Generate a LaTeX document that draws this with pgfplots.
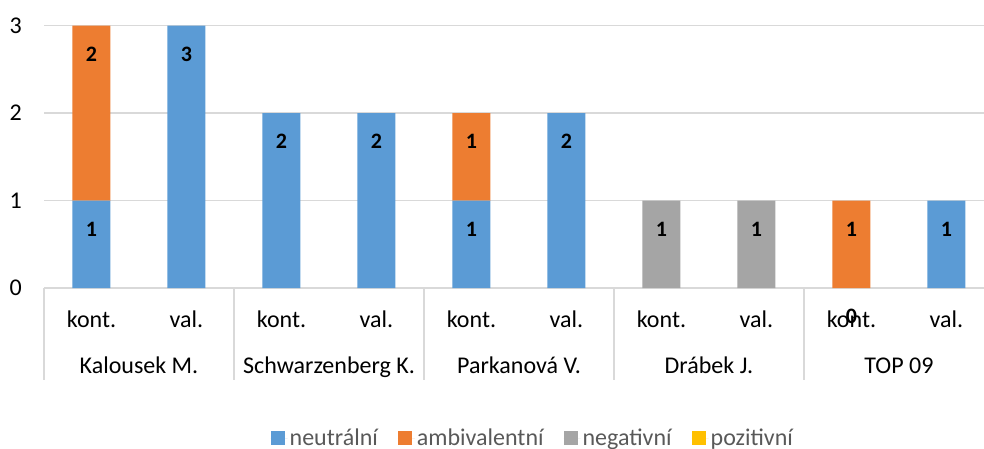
\documentclass[border=0pt]{standalone}
\usepackage{pgfplots}
\pgfplotsset{compat=1.18}
\usepackage{fontspec}
\setmainfont{Carlito}
\definecolor{neu}{HTML}{5B9BD5}
\definecolor{amb}{HTML}{ED7D31}
\definecolor{neg}{HTML}{A5A5A5}
\definecolor{poz}{HTML}{FFC000}
\definecolor{gridc}{HTML}{D9D9D9}
\definecolor{legc}{HTML}{595959}
\begin{document}
\begin{tikzpicture}
\begin{axis}[
  at={(44pt,-288pt)}, anchor=south west,
  scale only axis, width=940pt, height=262.5pt,
  ybar stacked, bar width=38pt,
  xmin=-0.5, xmax=9.395, ymin=0, ymax=3,
  clip=false,
  axis line style={draw=none},
  major tick length=0pt,
  ytick={0,1,2,3},
  ymajorgrids, major grid style={gridc, line width=1.3pt},
  /pgf/number format/assume math mode=true,
  yticklabel style={anchor=east, inner sep=0pt, xshift=-22pt, font=\fontsize{24}{28}\selectfont},
  xtick={0,1,2,3,4,5,6,7,8,9},
  xticklabels={kont.,val.,kont.,val.,kont.,val.,kont.,val.,kont.,val.},
  xticklabel style={anchor=base, inner sep=0pt, yshift=-39pt, font=\fontsize{24}{28}\selectfont},
  point meta=explicit symbolic,
  visualization depends on=rawy \as \rawy,
  nodes near coords,
  every node near coord/.append style={anchor=base, yshift={\rawy*43.75pt-35.5pt}, text=black, font=\bfseries\fontsize{22}{26}\selectfont},
  legend image code/.code={\fill[#1] (0pt,-7pt) rectangle (14pt,7pt); \path (0pt,0pt) -- (17pt,0pt);},
  legend columns=4,
  legend style={at={(0.52,-0.572)}, anchor=center, draw=none, fill=none,
    font=\fontsize{24}{28}\selectfont, text=legc,
    /tikz/every even column/.append style={column sep=18pt}},
]
\addplot[fill=neu, draw=none] coordinates {(0,1)[1] (1,3)[3] (2,2)[2] (3,2)[2] (4,1)[1] (5,2)[2] (6,0)[{}] (7,0)[{}] (8,0)[0] (9,1)[1]};
\addplot[fill=amb, draw=none] coordinates {(0,2)[2] (1,0)[{}] (2,0)[{}] (3,0)[{}] (4,1)[1] (5,0)[{}] (6,0)[{}] (7,0)[{}] (8,1)[1] (9,0)[{}]};
\addplot[fill=neg, draw=none] coordinates {(0,0)[{}] (1,0)[{}] (2,0)[{}] (3,0)[{}] (4,0)[{}] (5,0)[{}] (6,1)[1] (7,1)[1] (8,0)[{}] (9,0)[{}]};
\addplot[fill=poz, draw=none] coordinates {(0,0)[{}] (1,0)[{}] (2,0)[{}] (3,0)[{}] (4,0)[{}] (5,0)[{}] (6,0)[{}] (7,0)[{}] (8,0)[{}] (9,0)[{}]};
\legend{neutrální,ambivalentní,negativní,pozitivní}
\addplot[stack plots=false, forget plot, draw=none, fill=none] coordinates {(8,0)[0]};
\draw[gridc, line width=1.3pt] (axis cs:-0.5,0) -- ++(0pt,-92pt);
\draw[gridc, line width=1.3pt] (axis cs:1.5,0) -- ++(0pt,-92pt);
\draw[gridc, line width=1.3pt] (axis cs:3.5,0) -- ++(0pt,-92pt);
\draw[gridc, line width=1.3pt] (axis cs:5.5,0) -- ++(0pt,-92pt);
\draw[gridc, line width=1.3pt] (axis cs:7.5,0) -- ++(0pt,-92pt);
\node[anchor=base, inner sep=0pt, font=\fontsize{24}{28}\selectfont] at ([yshift=-85pt]axis cs:0.5,0) {Kalousek M.};
\node[anchor=base, inner sep=0pt, font=\fontsize{24}{28}\selectfont] at ([yshift=-85pt]axis cs:2.5,0) {Schwarzenberg K.};
\node[anchor=base, inner sep=0pt, font=\fontsize{24}{28}\selectfont] at ([yshift=-85pt]axis cs:4.5,0) {Parkanová V.};
\node[anchor=base, inner sep=0pt, font=\fontsize{24}{28}\selectfont] at ([yshift=-85pt]axis cs:6.5,0) {Drábek J.};
\node[anchor=base, inner sep=0pt, font=\fontsize{24}{28}\selectfont] at ([yshift=-85pt]axis cs:8.5,0) {TOP 09};
\end{axis}
\pgfresetboundingbox
\path[use as bounding box] (0pt,0pt) rectangle (984pt,-448pt);
\end{tikzpicture}
\end{document}
